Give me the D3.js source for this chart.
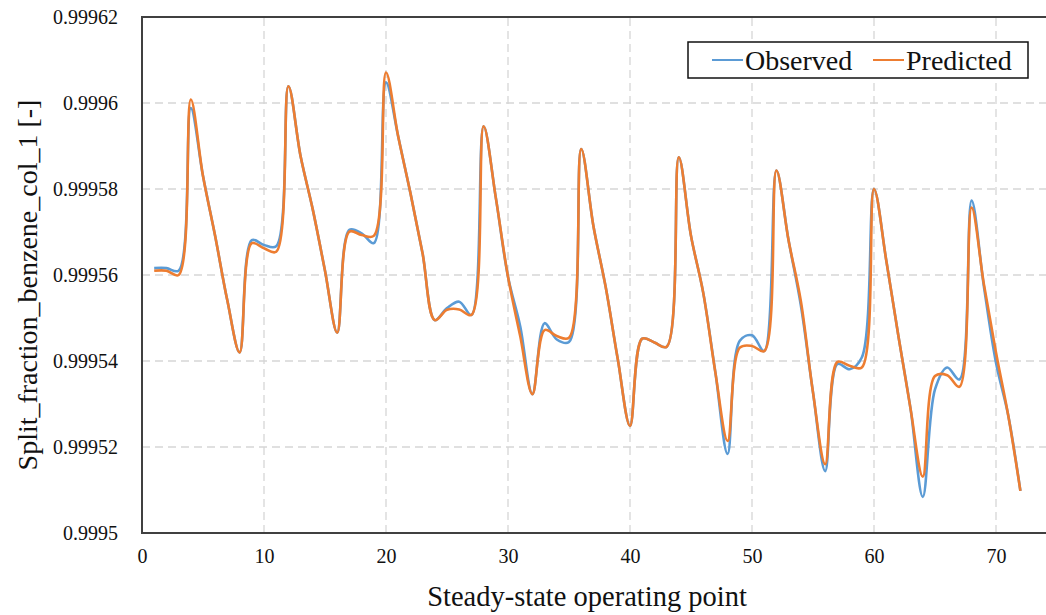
<!DOCTYPE html>
<html><head><meta charset="utf-8">
<script src="https://cdn.jsdelivr.net/npm/d3@7"></script>
<style>body{margin:0;background:#fff;overflow:hidden}svg{display:block}</style>
</head><body><svg id="c" width="1046" height="615"></svg>
<script>
const points = d3.range(1, 73);
const observed = [0.9995616,0.9995616,0.999561,0.9995988,0.999583,0.999569,0.999554,0.999542,
0.9995681,0.999567,0.9995667,0.9996039,0.9995876,0.9995752,0.999561,0.9995466,
0.9995705,0.9995697,0.9995674,0.9996048,0.9995922,0.9995791,0.999565,0.9995495,
0.9995523,0.9995538,0.9995507,0.9995946,0.999578,0.9995596,0.9995481,0.9995323,
0.9995488,0.999545,0.9995444,0.9995893,0.9995714,0.9995573,0.9995404,0.9995249,
0.9995452,0.9995443,0.9995433,0.9995874,0.9995691,0.9995559,0.9995373,0.9995184,
0.9995447,0.999546,0.9995423,0.9995843,0.999568,0.999553,0.9995327,0.9995144,
0.9995393,0.9995381,0.9995408,0.99958,0.9995635,0.9995458,0.9995288,0.9995084,
0.9995334,0.9995385,0.9995357,0.9995773,0.9995575,0.9995396,0.9995274,0.9995098];
const predicted = [0.999561,0.999561,0.99956,0.9996008,0.999583,0.999569,0.999554,0.999542,
0.9995674,0.9995662,0.9995654,0.9996039,0.9995876,0.9995752,0.999561,0.9995466,
0.9995701,0.9995693,0.9995691,0.9996071,0.9995922,0.9995791,0.999565,0.9995495,
0.9995519,0.999552,0.9995507,0.9995946,0.999578,0.9995596,0.9995458,0.9995323,
0.9995472,0.9995458,0.9995454,0.9995893,0.9995714,0.9995573,0.9995404,0.9995249,
0.9995452,0.9995443,0.9995433,0.9995874,0.9995691,0.9995559,0.9995373,0.9995214,
0.9995431,0.9995435,0.9995423,0.9995843,0.999568,0.999554,0.9995327,0.999516,
0.9995398,0.9995389,0.9995385,0.99958,0.9995635,0.9995458,0.9995288,0.9995131,
0.9995365,0.9995367,0.999534,0.9995757,0.999558,0.999542,0.9995274,0.9995098];
const xTicks = [0,10,20,30,40,50,60,70];
const yTicks = [0.9995,0.99952,0.99954,0.99956,0.99958,0.9996,0.99962];
const yTickLabels = ["0.9995","0.99952","0.99954","0.99956","0.99958","0.9996","0.99962"];
const seriesNames = ["Observed","Predicted"];
const colors = ["#5b9bd5","#ed7d31"];

const svg = d3.select("#c");
const x = d3.scaleLinear().domain([0,75]).range([142,1057]);
const y = d3.scaleLinear().domain([0.9995,0.99962]).range([533,17]);
const font = "Liberation Serif";

// gridlines
svg.append("g").selectAll("line").data(yTicks.slice(1)).join("line")
  .attr("x1",x(0)).attr("x2",1046).attr("y1",d=>y(d)).attr("y2",d=>y(d))
  .attr("stroke","#d6d6d6").attr("stroke-width",1.3).attr("stroke-dasharray","8,5");
svg.append("g").selectAll("line").data(xTicks.slice(1)).join("line")
  .attr("x1",d=>x(d)).attr("x2",d=>x(d)).attr("y1",y(0.9995)).attr("y2",y(0.99962))
  .attr("stroke","#d6d6d6").attr("stroke-width",1.3).attr("stroke-dasharray","8,5");

// frame
svg.append("path").attr("d",`M1046,${y(0.99962)}H${x(0)}V${y(0.9995)}H1046`)
  .attr("fill","none").attr("stroke","#404040").attr("stroke-width",2);

// axes
const xAxis = d3.axisBottom(x).tickValues(xTicks).tickSize(0).tickPadding(16);
const gx = svg.append("g").attr("transform",`translate(0,${y(0.9995)})`).call(xAxis);
gx.select(".domain").remove();
const yAxis = d3.axisLeft(y).tickValues(yTicks).tickSize(0).tickPadding(24)
  .tickFormat((d,i)=>yTickLabels[i]);
const gy = svg.append("g").attr("transform",`translate(${x(0)},0)`).call(yAxis);
gy.select(".domain").remove();
[gx,gy].forEach(g=>{
  g.attr("font-family",font).attr("font-size",20);
  g.selectAll("text").attr("font-family",font).attr("font-size",20).attr("fill","#111");
});

// lines
const line = d3.line().x((d,i)=>x(points[i])).y(d=>y(d)).curve(d3.curveCatmullRom.alpha(0.5));
[observed,predicted].forEach((s,k)=>{
  svg.append("path").datum(s).attr("d",line).attr("fill","none")
    .attr("stroke",colors[k]).attr("stroke-width",2.6).attr("stroke-linejoin","round");
});

// legend
const lg = svg.append("g");
lg.append("rect").attr("x",688).attr("y",42).attr("width",340).attr("height",36)
  .attr("fill","#fff").attr("stroke","#111").attr("stroke-width",1.5);
const legX = [712,873];
seriesNames.forEach((n,k)=>{
  lg.append("line").attr("x1",legX[k]).attr("x2",legX[k]+31).attr("y1",60).attr("y2",60)
    .attr("stroke",colors[k]).attr("stroke-width",2);
  lg.append("text").attr("x",legX[k]+33).attr("y",70).text(n)
    .attr("font-family",font).attr("font-size",28).attr("fill","#111");
});

// axis titles
svg.append("text").attr("x",587).attr("y",606).attr("text-anchor","middle")
  .attr("font-family",font).attr("font-size",28.5).attr("fill","#111")
  .text("Steady-state operating point");
svg.append("text").attr("transform","translate(37,285) rotate(-90)").attr("text-anchor","middle")
  .attr("font-family",font).attr("font-size",28).attr("fill","#111")
  .text("Split_fraction_benzene_col_1 [-]");
</script></body></html>
